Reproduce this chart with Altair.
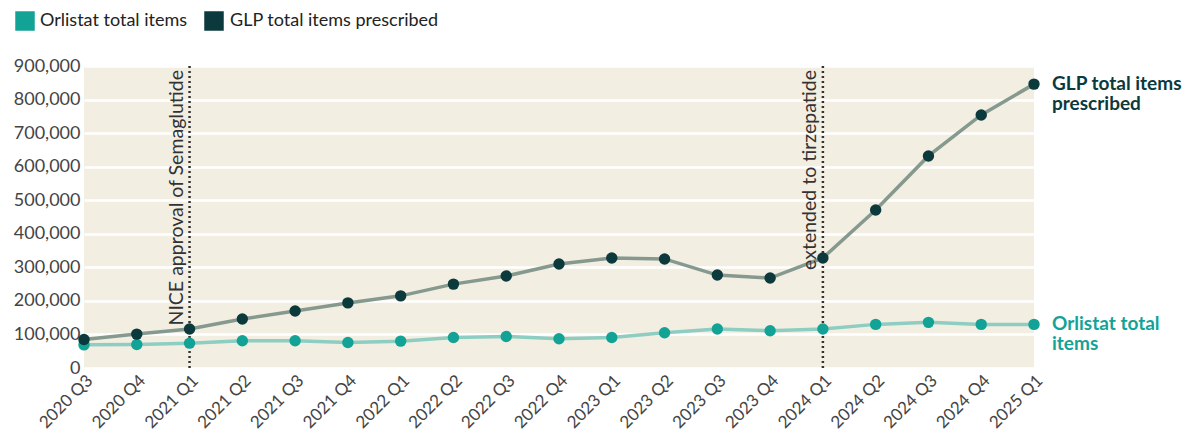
import altair as alt
import pandas as pd

quarters = ["2020 Q3", "2020 Q4", "2021 Q1", "2021 Q2", "2021 Q3", "2021 Q4",
            "2022 Q1", "2022 Q2", "2022 Q3", "2022 Q4", "2023 Q1", "2023 Q2",
            "2023 Q3", "2023 Q4", "2024 Q1", "2024 Q2", "2024 Q3", "2024 Q4", "2025 Q1"]
glp = [85000, 101000, 116000, 146000, 170000, 194000, 215000, 250000, 274000, 310000,
       328000, 325000, 277000, 268000, 328000, 471000, 632000, 754000, 846000]
orlistat = [69000, 70000, 74000, 81000, 81000, 76000, 80000, 91000, 94000, 87000,
            91000, 105000, 116000, 111000, 116000, 130000, 136000, 130000, 130000]
series_names = ["Orlistat total items", "GLP total items prescribed"]
end_labels = [["Orlistat total", "items"], ["GLP total items", "prescribed"]]
event_quarters = ["2021 Q1", "2024 Q1"]
event_labels = ["NICE approval of Semaglutide", "extended to tirzepatide"]
y_ticks = [0, 100000, 200000, 300000, 400000, 500000, 600000, 700000, 800000, 900000]

FONT = "Lato"
point_colors = ["#13a396", "#0b393c"]
line_colors = ["#8ecdc1", "#86998f"]
label_colors = ["#13a396", "#0b393c"]

rows = []
for q, v in zip(quarters, orlistat):
    rows.append({"quarter": q, "value": v, "series": series_names[0], "line": series_names[0]})
for q, v in zip(quarters, glp):
    rows.append({"quarter": q, "value": v, "series": series_names[1], "line": series_names[1]})
df = pd.DataFrame(rows)

ends = pd.DataFrame({
    "quarter": [quarters[-1], quarters[-1]],
    "value": [orlistat[-1], glp[-1]],
    "lbl": series_names,
    "label": end_labels,
})
events = pd.DataFrame({"quarter": event_quarters, "label": event_labels})

x_axis = alt.Axis(title=None, labelAngle=315, labelAlign="right",
                  labelBaseline="top", labelFontSize=17, labelColor="#444444",
                  labelFont=FONT, ticks=False, domain=False, labelPadding=4,
                  grid=False)
y_axis = alt.Axis(title=None, format=",d", values=y_ticks,
                  labelFontSize=18, labelColor="#444444", labelFont=FONT,
                  ticks=False, domain=False, labelPadding=4,
                  grid=True, gridColor="#ffffff", gridWidth=2.5)
x_scale = alt.Scale(type="point", padding=0)
y_scale = alt.Scale(domain=[0, 900000], nice=False)

lines = alt.Chart(df).mark_line(strokeWidth=3.5).encode(
    x=alt.X("quarter:O", sort=quarters, scale=x_scale, axis=x_axis),
    y=alt.Y("value:Q", scale=y_scale, axis=y_axis),
    stroke=alt.Stroke("line:N", scale=alt.Scale(domain=series_names, range=line_colors),
                      legend=None),
    detail="line:N",
)

points = alt.Chart(df).mark_point(filled=True, size=130, opacity=1).encode(
    x=alt.X("quarter:O", sort=quarters, scale=x_scale, axis=x_axis),
    y=alt.Y("value:Q", scale=y_scale, axis=y_axis),
    color=alt.Color("series:N", scale=alt.Scale(domain=series_names, range=point_colors),
                    legend=None),
)

rules = alt.Chart(events).mark_rule(strokeDash=[2, 3], strokeWidth=2.5, color="#333333").encode(
    x=alt.X("quarter:O", sort=quarters, scale=x_scale, axis=x_axis),
    y=alt.value(0),
    y2=alt.value(302),
)

event_text = alt.Chart(events).mark_text(angle=270, align="right", baseline="bottom",
                                         fontSize=19.5, font=FONT, color="#333333",
                                         dx=-4, dy=-3).encode(
    x=alt.X("quarter:O", sort=quarters, scale=x_scale, axis=x_axis),
    y=alt.value(0),
    text="label:N",
)

end_text = alt.Chart(ends).mark_text(align="left", baseline="middle", fontSize=19,
                                     font=FONT, fontWeight="bold", dx=18,
                                     lineHeight=20).encode(
    x=alt.X("quarter:O", sort=quarters, scale=x_scale, axis=x_axis),
    y=alt.Y("value:Q", scale=y_scale, axis=y_axis),
    text="label",
    fill=alt.Fill("lbl:N", scale=alt.Scale(domain=series_names, range=label_colors),
                  legend=None),
)

# legend (top-left), built from the series names and colours
legend_layers = []
legend_sq_x = [-59, 130]
legend_txt_x = [-44, 146]
for name, col, sx, tx in zip(series_names, point_colors, legend_sq_x, legend_txt_x):
    ldf = pd.DataFrame({"name": [name]})
    legend_layers.append(alt.Chart(ldf).mark_square(size=380, opacity=1, color=col).encode(
        x=alt.value(sx), y=alt.value(-45)))
    legend_layers.append(alt.Chart(ldf).mark_text(align="left", baseline="middle", fontSize=18,
                                                  font=FONT, color="#222222").encode(
        x=alt.value(tx), y=alt.value(-45), text="name:N"))

chart = alt.layer(lines, rules, event_text, points, end_text, *legend_layers).properties(
    width=950, height=302,
    autosize=alt.AutoSizeParams(type="none"),
    padding={"left": 84, "top": 66, "right": 162, "bottom": 65},
    background="#ffffff",
).configure_view(fill="#f3eee2", stroke=None)

chart.save("out.html", embed_options={"renderer": "svg", "actions": False})
